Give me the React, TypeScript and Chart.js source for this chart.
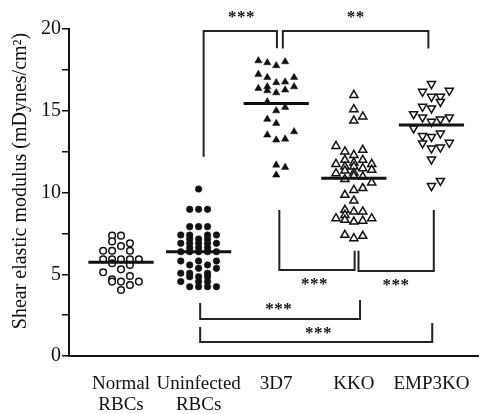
import React, { useEffect, useRef } from 'react';
import { Chart, registerables } from 'chart.js';
Chart.register(...registerables);

// ---- data ----
const categories: (string | string[])[] = [['Normal', 'RBCs'], ['Uninfected', 'RBCs'], '3D7', 'KKO', 'EMP3KO'];

const normalValues = [7.36, 7.36, 7.01, 6.89, 6.73, 6.44, 6.44, 6.44, 5.91, 5.91, 5.91, 5.91, 5.91, 5.67, 5.57, 5.30, 5.12, 4.89, 4.69, 4.55, 4.55, 4.55, 4.34, 4.04];
const normalJitter = [-1, 0, -1, 1, 0, -2, -1, 1, -2, -1, 0, 1, 2, -1, 1, 0, -2, 1, -1, -1, 0, 2, 1, 0];

const uninfectedValues = [10.21, 8.97, 8.97, 8.97, 7.91, 7.91, 7.91, 7.40, 7.40, 7.40, 7.40, 7.16, 7.16, 7.16, 6.89, 6.89, 6.89, 6.89, 6.89, 6.62, 6.62, 6.62, 6.38, 6.38, 6.38, 6.38, 6.38, 5.81, 5.81, 5.81, 5.57, 5.57, 5.36, 5.36, 5.06, 5.06, 5.06, 4.85, 4.85, 4.85, 4.55, 4.55, 4.55, 4.24, 4.24, 4.24, 4.24];
const uninfectedJitter = [0, -1, 0, 1, -1, 0, 1, -2, -1, 1, 2, -1, 0, 1, -2, -1, 0, 1, 2, -1, 0, 1, -2, -1, 0, 1, 2, -2, 0, 2, -1, 1, 0, 2, -2, -1, 1, -1, 0, 1, -2, 0, 1, -1, 0, 1, 2];

const d3d7Values = [18.06, 17.94, 17.76, 18.00, 17.23, 17.04, 16.72, 16.76, 17.04, 16.37, 16.47, 16.23, 16.10, 16.27, 16.47, 15.55, 15.00, 15.21, 14.48, 14.23, 13.52, 13.21, 13.27, 13.72, 11.68, 11.54, 11.07];
const d3d7Jitter = [-2, -1, 0, 1, -2, -1, 0, 1, 2, -2, -1, -1, 0, 1, 2, -1, 0, 1, -1, 0, -1, 0, 1, 2, 0, 1, 0];

const kkoValues = [15.96, 15.09, 14.39, 14.64, 12.84, 12.50, 12.29, 12.60, 11.74, 11.99, 11.82, 11.99, 11.74, 11.58, 11.58, 11.48, 11.38, 11.33, 11.21, 11.17, 10.81, 11.01, 10.97, 10.60, 10.15, 10.26, 9.85, 9.50, 8.93, 8.62, 8.83, 8.83, 8.42, 8.32, 8.21, 8.27, 8.42, 7.40, 7.20, 7.34];
const kkoJitter = [0, 0, 0, 1, -2, -1, 0, 1, -2, -1, 0, 1, 2, -1, 0, 1, 2, -1, 0, -2, -1, 0, 1, 2, 0, 1, -1, 0, -1, -1, 0, 1, -2, -1, 0, 1, 2, -1, 0, 1];

const emp3koValues = [16.64, 16.17, 16.23, 15.86, 15.86, 15.55, 15.25, 15.15, 14.80, 14.60, 14.33, 14.48, 14.60, 13.93, 13.46, 13.41, 13.62, 13.01, 12.70, 12.76, 13.05, 12.03, 10.40, 10.72];
const emp3koJitter = [0, -1, 2, 0, 1, 1, -1, 0, -2, -1, 0, 1, 2, -2, -1, 0, 1, -1, 0, 1, 2, 0, 0, 1];

const means = [5.73, 6.38, 15.45, 10.87, 14.13];

// significance brackets: [xLeft, xRight, yBar, yLeftEnd, yRightEnd]
const brackets: number[][] = [
  [2.065, 3.009, 19.88, 12.19, 18.82],
  [3.085, 4.96, 19.88, 18.8, 18.8],
  [3.04, 4.01, 5.26, 8.93, 6.44],
  [4.06, 5.03, 5.2, 6.44, 8.93],
  [2.02, 4.08, 2.26, 3.24, 3.43],
  [2.02, 5.01, 0.86, 1.77, 2.02],
];
const starLabels = ['***', '**', '***', '***', '***', '***'];
const starX = [2.55, 4.02, 3.49, 4.54, 3.03, 3.54];
const starY = [20.86, 20.86, 4.53, 4.46, 3.0, 1.53];

const yTitle = 'Shear elastic modulus (mDynes/cm\u00B2)';

const JIT = 0.115;
const INK = '#111';
const FONT = '"Liberation Serif", "Times New Roman", serif';

function pts(cat: number, vals: number[], jit: number[]) {
  return vals.map((v, i) => ({ x: cat + jit[i] * JIT, y: v }));
}

const annotPlugin = {
  id: 'annot',
  afterDraw(chart: any) {
    const { ctx, scales } = chart;
    const xs = scales.x, ys = scales.y;
    ctx.save();
    ctx.strokeStyle = '#222';
    ctx.lineWidth = 2;
    ctx.lineJoin = 'miter';
    brackets.forEach(([x1, x2, yb, y1, y2]) => {
      ctx.beginPath();
      ctx.moveTo(xs.getPixelForValue(x1), ys.getPixelForValue(y1));
      ctx.lineTo(xs.getPixelForValue(x1), ys.getPixelForValue(yb));
      ctx.lineTo(xs.getPixelForValue(x2), ys.getPixelForValue(yb));
      ctx.lineTo(xs.getPixelForValue(x2), ys.getPixelForValue(y2));
      ctx.stroke();
    });
    ctx.fillStyle = INK;
    ctx.font = 'bold 17px ' + FONT;
    ctx.textAlign = 'center';
    ctx.textBaseline = 'middle';
    starLabels.forEach((t, k) => {
      const px = xs.getPixelForValue(starX[k]);
      const py = ys.getPixelForValue(starY[k]);
      const n = t.length;
      for (let i = 0; i < n; i++) {
        ctx.fillText('*', px + (i - (n - 1) / 2) * 9, py + 3);
      }
    });
    ctx.font = '20px ' + FONT;
    ctx.translate(21, 181);
    ctx.rotate(-Math.PI / 2);
    ctx.textBaseline = 'middle';
    ctx.fillText(yTitle, 0, 0);
    ctx.restore();
  },
};

export default function App() {
  const ref = useRef<HTMLCanvasElement>(null);
  useEffect(() => {
    if (!ref.current) return;
    const meanSets = means.map((m, i) => ({
      data: [{ x: i + 1 - 0.42, y: m }, { x: i + 1 + 0.42, y: m }],
      showLine: true,
      borderColor: INK,
      borderWidth: 3,
      pointRadius: 0,
      order: 0,
    }));
    const chart = new Chart(ref.current, {
      type: 'scatter',
      data: {
        datasets: [
          ...meanSets,
          { data: pts(1, normalValues, normalJitter), pointStyle: 'circle', pointRadius: 3.3, pointBorderWidth: 1.5, pointBackgroundColor: '#fff', pointBorderColor: INK, order: 1 },
          { data: pts(2, uninfectedValues, uninfectedJitter), pointStyle: 'circle', pointRadius: 3.3, pointBorderWidth: 0.5, pointBackgroundColor: INK, pointBorderColor: INK, order: 1 },
          { data: pts(3, d3d7Values, d3d7Jitter), pointStyle: 'triangle', pointRadius: 4.2, pointBorderWidth: 0.5, pointBackgroundColor: INK, pointBorderColor: INK, order: 1 },
          { data: pts(4, kkoValues, kkoJitter), pointStyle: 'triangle', pointRadius: 4.7, pointBorderWidth: 1.5, pointBackgroundColor: '#fff', pointBorderColor: INK, order: 1 },
          { data: pts(5, emp3koValues, emp3koJitter), pointStyle: 'triangle', pointRotation: 180, pointRadius: 4.7, pointBorderWidth: 1.5, pointBackgroundColor: '#fff', pointBorderColor: INK, order: 1 },
        ] as any,
      },
      options: {
        animation: false,
        responsive: false,
        devicePixelRatio: 1,
        layout: { padding: { top: 29, right: 2, left: 0, bottom: 0 } },
        plugins: { legend: { display: false }, tooltip: { enabled: false } },
        scales: {
          x: {
            type: 'linear',
            min: 0.33,
            max: 5.61,
            afterBuildTicks: (s: any) => { s.ticks = categories.map((_, i) => ({ value: i + 1 })); },
            afterFit: (s: any) => { s.height = 58; },
            grid: { display: false },
            border: { display: true, color: INK, width: 2 },
            ticks: {
              autoSkip: false,
              maxRotation: 0,
              padding: 9,
              color: INK,
              font: { family: FONT, size: 19, lineHeight: 1.12 },
              callback: (v: any) => categories[Math.round(v) - 1] ?? '',
            },
          },
          y: {
            min: 0,
            max: 20,
            afterFit: (s: any) => { s.width = 69; },
            grid: { drawOnChartArea: false, drawTicks: true, tickLength: 7, color: INK, lineWidth: 1.5 },
            border: { display: true, color: INK, width: 2 },
            ticks: {
              stepSize: 2.5,
              autoSkip: false,
              padding: 1,
              color: INK,
              font: { family: FONT, size: 20 },
              callback: (v: any) => (Number(v) % 5 === 0 ? String(v) : ''),
            },
          },
        },
      } as any,
      plugins: [annotPlugin],
    });
    return () => chart.destroy();
  }, []);
  return (
    <div style={{ position: 'fixed', left: 0, top: 0, width: 485, height: 414, background: '#fff' }}>
      <canvas ref={ref} width={485} height={414} style={{ width: 485, height: 414, display: 'block' }} />
    </div>
  );
}
